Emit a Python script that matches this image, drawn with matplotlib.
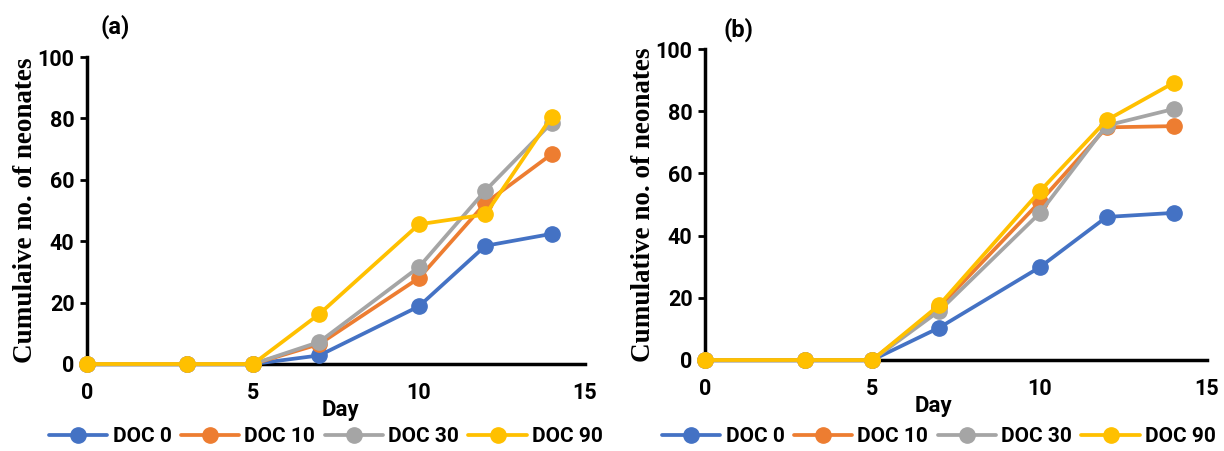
import matplotlib
matplotlib.use("Agg")
import matplotlib.pyplot as plt

days = [0, 3, 5, 7, 10, 12, 14]
series_names = ["DOC 0", "DOC 10", "DOC 30", "DOC 90"]
colors = ["#4472C4", "#ED7D31", "#A5A5A5", "#FFC000"]

a_doc0 = [0, 0, 0, 2.8, 18.8, 38.5, 42.4]
a_doc10 = [0, 0, 0, 6.5, 28.0, 52.4, 68.4]
a_doc30 = [0, 0, 0, 7.2, 31.6, 56.5, 78.6]
a_doc90 = [0, 0, 0, 16.3, 45.5, 48.7, 80.6]

b_doc0 = [0, 0, 0, 10.4, 29.8, 46.0, 47.3]
b_doc10 = [0, 0, 0, 17.0, 50.8, 74.8, 75.2]
b_doc30 = [0, 0, 0, 15.8, 47.2, 75.4, 80.7]
b_doc90 = [0, 0, 0, 17.7, 54.2, 77.1, 89.1]

x_ticks = [0, 5, 10, 15]
y_ticks = [0, 20, 40, 60, 80, 100]

sans = "Roboto"
serif = "Liberation Serif"

fig = plt.figure(figsize=(12.24, 4.51), dpi=100)

panels = [
    dict(rect=[87/1224, 1-364/451, 498/1224, 307/451], data=[a_doc0, a_doc10, a_doc30, a_doc90],
         ylabel="Cumulaive no. of neonates", tag="(a)", tagpos=(115/1224, 1-27/451),
         daypos=(340/1224, 1-410/451), legx=(326/1224)),
    dict(rect=[705/1224, 1-360/451, 502/1224, 311/451], data=[b_doc0, b_doc10, b_doc30, b_doc90],
         ylabel="Cumulative no. of neonates", tag="(b)", tagpos=(738/1224, 1-30/451),
         daypos=(933/1224, 1-406/451), legx=(939/1224)),
]

for p in panels:
    ax = fig.add_axes(p["rect"])
    handles = []
    for vals, name, c in zip(p["data"], series_names, colors):
        h, = ax.plot(days, vals, color=c, lw=2.7, marker="o", ms=11, label=name,
                     solid_capstyle="round", clip_on=False)
        handles.append(h)
    ax.set_xlim(0, 15)
    ax.set_ylim(0, 100)
    ax.set_xticks(x_ticks)
    ax.set_yticks(y_ticks)
    for s in ["top", "right"]:
        ax.spines[s].set_visible(False)
    ax.spines["left"].set_linewidth(2.5)
    ax.spines["bottom"].set_linewidth(2.5)
    ax.spines["left"].set_zorder(0)
    ax.spines["bottom"].set_zorder(0)
    ax.tick_params(axis="y", direction="out", length=5, width=2, pad=4)
    ax.tick_params(axis="x", length=0, pad=13)
    for lab in ax.get_xticklabels() + ax.get_yticklabels():
        lab.set_fontfamily(sans)
        lab.set_fontweight("bold")
        lab.set_fontsize(15.5)
    ax.set_ylabel(p["ylabel"], fontfamily=serif, fontweight="bold", fontsize=19.5, labelpad=0)
    fig.text(p["tagpos"][0], p["tagpos"][1], p["tag"], fontfamily=sans, fontweight="bold",
             fontsize=17, ha="center", va="center")
    fig.text(p["daypos"][0], p["daypos"][1], "Day", fontfamily=sans, fontweight="bold",
             fontsize=16, ha="center", va="center")
    fig.legend(handles=handles, loc="center", bbox_to_anchor=(p["legx"], 1-437/451),
               ncol=4, frameon=False, prop=dict(family=sans, weight="bold", size=15),
               handlelength=2.8, handletextpad=0.25, columnspacing=0.45, markerscale=1.0,
               borderpad=0.1)

fig.savefig("out.png", dpi=100)
